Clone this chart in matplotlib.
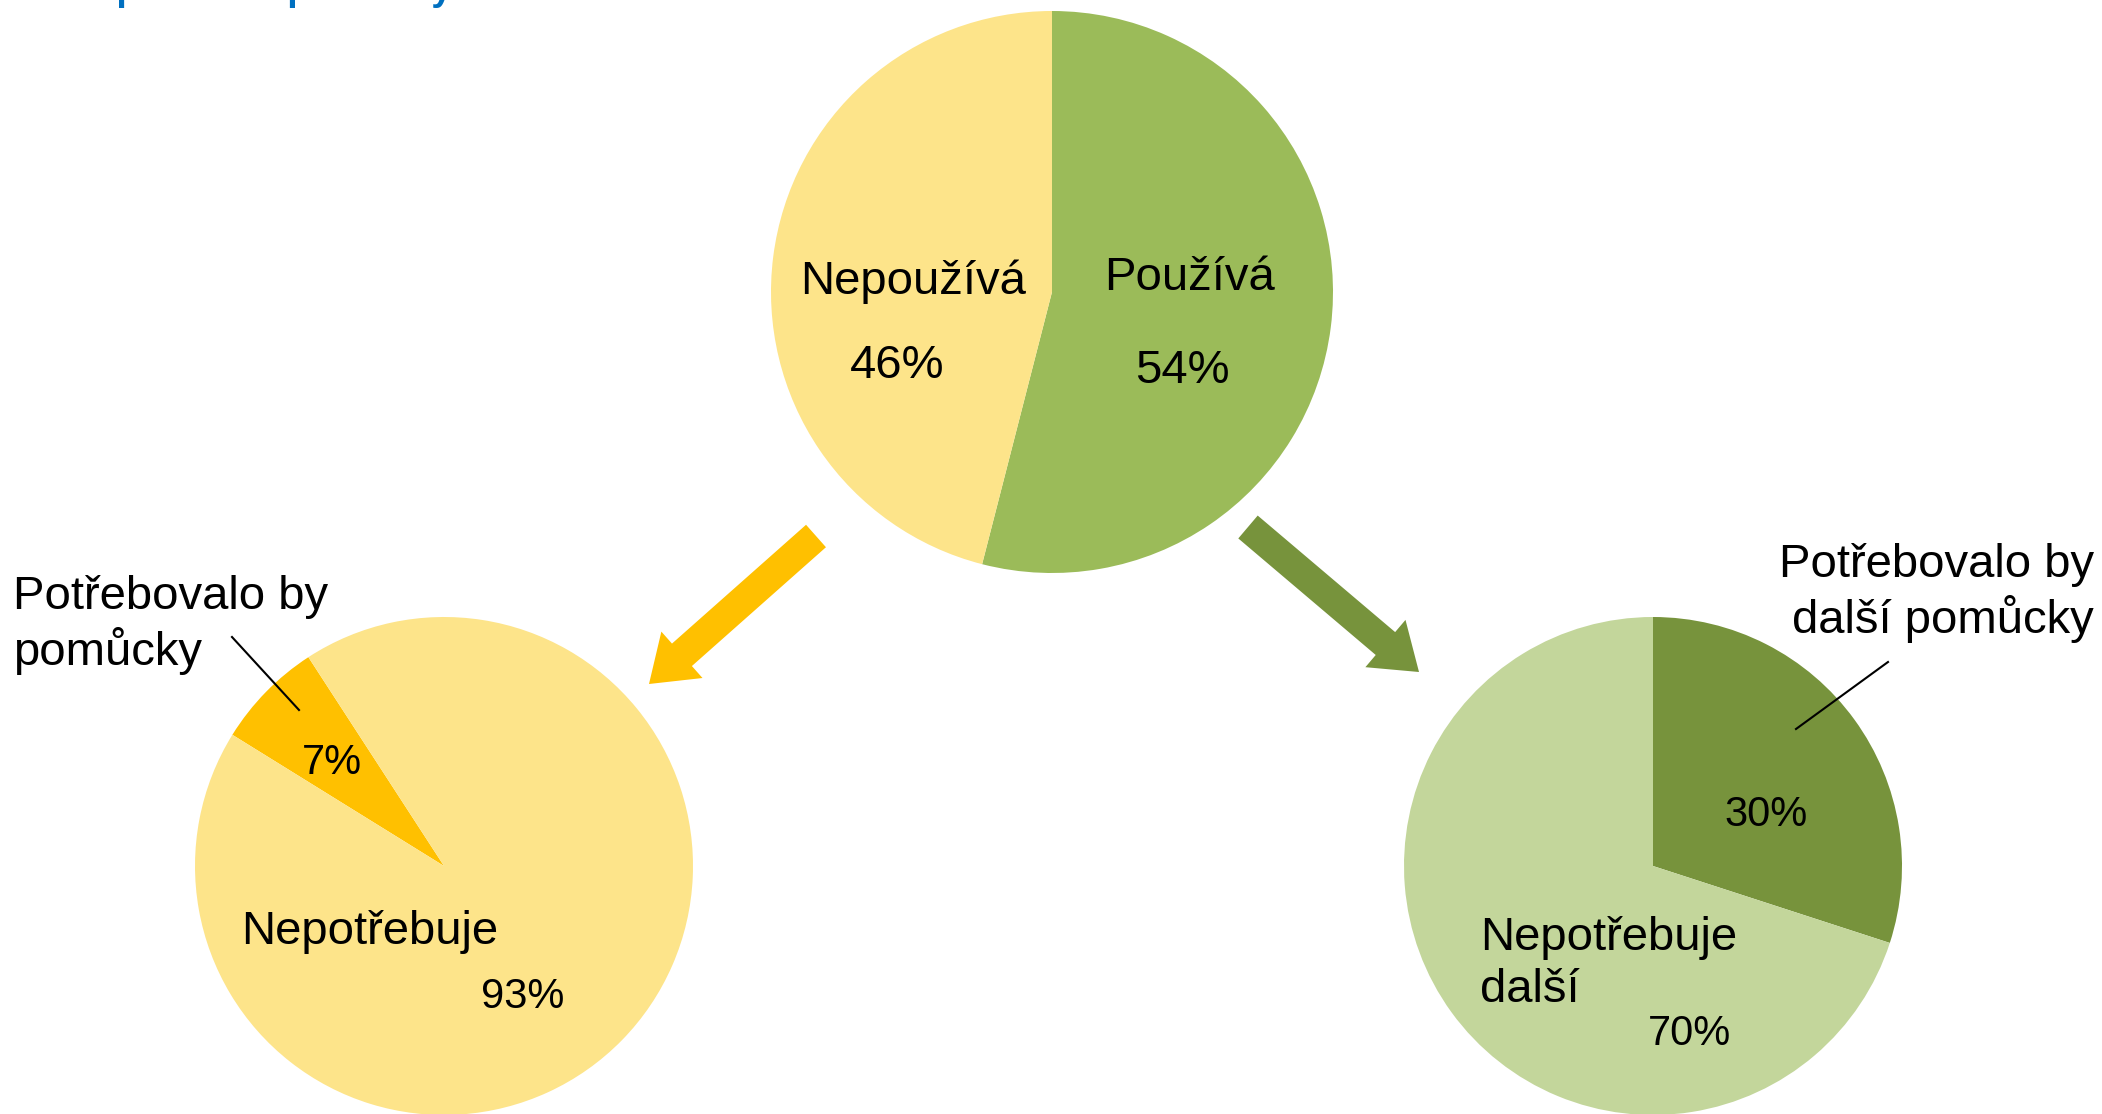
import matplotlib
matplotlib.use("Agg")
import matplotlib.pyplot as plt
from matplotlib.patches import FancyArrow

plt.rcParams["font.family"] = ["Liberation Sans", "DejaVu Sans"]

W, H = 2102, 1114

# horní graf: používání pomůcek
top_labels = ["Používá", "Nepoužívá"]
top_values = [54, 46]
# vlevo dole: ti, kdo nepoužívají
left_labels = ["Potřebovalo by\npomůcky", "Nepotřebuje"]
left_values = [7, 93]
# vpravo dole: ti, kdo používají
right_labels = ["Potřebovalo by\ndalší pomůcky", "Nepotřebuje\ndalší"]
right_values = [30, 70]

YELLOW_LIGHT = "#FDE48A"
YELLOW = "#FFC000"
GREEN = "#9BBB59"
GREEN_LIGHT = "#C3D69B"
GREEN_DARK = "#77933C"


def Y(y):
    # obrazové souřadnice (y dolů) -> osy (y nahoru), +4 px korekce textu
    return H - y


fig = plt.figure(figsize=(W / 100, H / 100), dpi=100)
ax = fig.add_axes([0, 0, 1, 1])

wp = dict(linewidth=0)
ax.pie(top_values, colors=[GREEN, YELLOW_LIGHT], startangle=90,
       counterclock=False, center=(1052, Y(292)), radius=281, wedgeprops=wp)
ax.pie(left_values, colors=[YELLOW, YELLOW_LIGHT], startangle=148.2,
       counterclock=False, center=(444, Y(866)), radius=249, wedgeprops=wp)
ax.pie(right_values, colors=[GREEN_DARK, GREEN_LIGHT], startangle=90,
       counterclock=False, center=(1653, Y(866)), radius=249, wedgeprops=wp)

ax.set_xlim(0, W)
ax.set_ylim(0, H)
ax.set_aspect("equal")
ax.axis("off")

# šipky
ax.add_patch(FancyArrow(816, Y(536), -167, -148, width=30, head_width=62,
                        head_length=44, length_includes_head=True,
                        color=YELLOW, lw=0))
ax.add_patch(FancyArrow(1248, Y(527), 171, -145, width=30, head_width=62,
                        head_length=44, length_includes_head=True,
                        color=GREEN_DARK, lw=0))

big = 34
small = 30
ax.text(913, Y(282), top_labels[1], fontsize=big, ha="center", va="center")
ax.text(897, Y(366), f"{top_values[1]}%", fontsize=big, ha="center", va="center")
ax.text(1190, Y(278), top_labels[0], fontsize=big, ha="center", va="center")
ax.text(1182, Y(371), f"{top_values[0]}%", fontsize=big, ha="center", va="center")

ax.text(13, Y(625), left_labels[0], fontsize=big, ha="left", va="center",
        linespacing=1.22)
ax.plot([232, 299], [Y(637), Y(710)], color="black", lw=1.5)
ax.text(332, Y(763), f"{left_values[0]}%", fontsize=small, ha="center", va="center")
ax.text(370, Y(932), left_labels[1], fontsize=big, ha="center", va="center")
ax.text(523, Y(997), f"{left_values[1]}%", fontsize=small, ha="center", va="center")

ax.text(2094, Y(593), right_labels[0], fontsize=big, ha="right", va="center",
        multialignment="right", linespacing=1.22)
ax.plot([1888, 1796], [Y(662), Y(729)], color="black", lw=1.5)
ax.text(1766, Y(815), f"{right_values[0]}%", fontsize=small, ha="center", va="center")
ax.text(1480, Y(964), right_labels[1], fontsize=big, ha="left", va="center",
        linespacing=1.22)
ax.text(1690, Y(1034), f"{right_values[1]}%", fontsize=small, ha="center", va="center")

# nadpis, z něhož jsou vidět jen dolní dotahy písmen
ax.text(33, H, "Kompenzační pomůcky", fontsize=27, fontweight="bold",
        color="#0070C0", ha="left", va="baseline", clip_on=True)

fig.savefig("out.png", dpi=100)
